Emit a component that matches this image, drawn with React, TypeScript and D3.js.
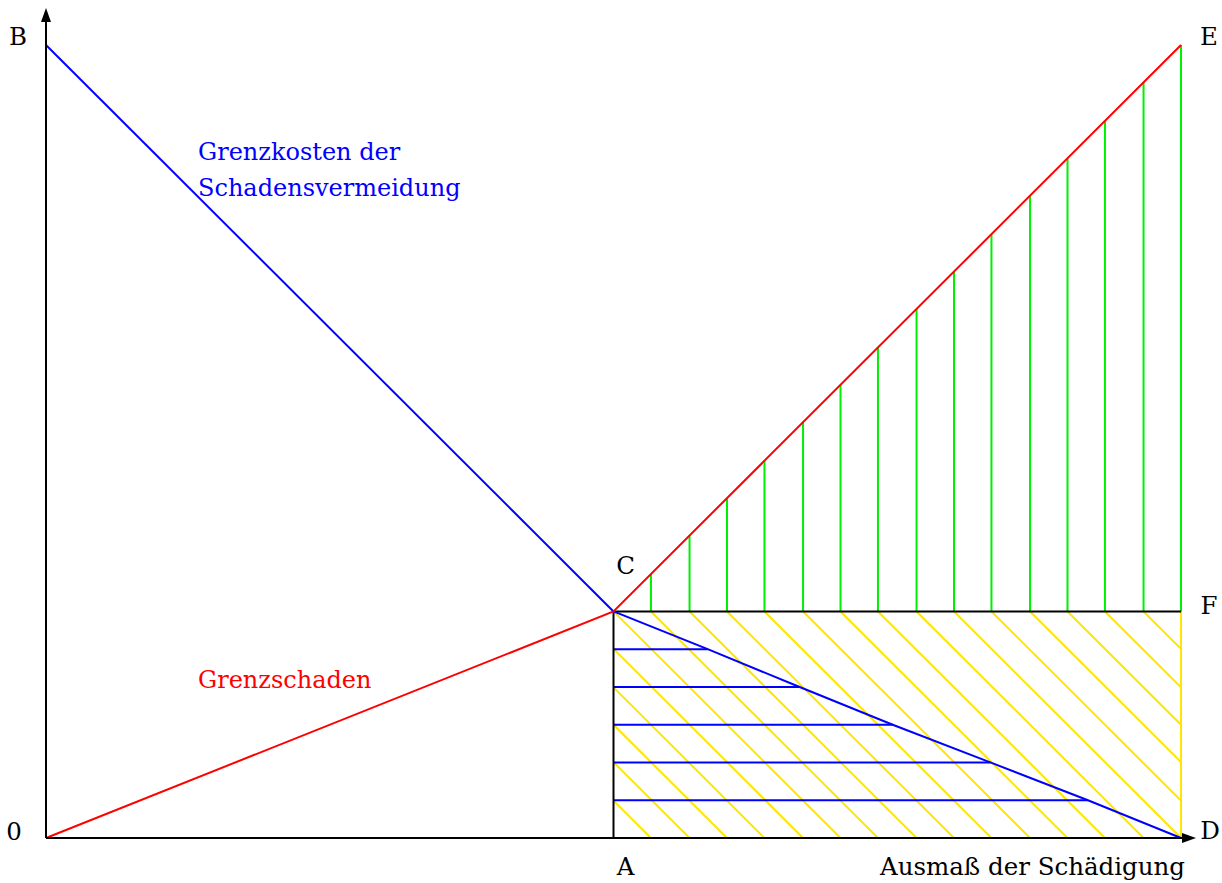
import * as d3 from "d3";

// Grenzkosten der Schadensvermeidung (B -> C)
const costX = [0, 5];
const costY = [7, 2];
// Grenzschaden (0 -> C -> E)
const damageX = [0, 5, 10];
const damageY = [0, 2, 7];
// Kostenkurve unter der Linie C-F (C -> D)
const lowerX = [5, 5.83, 6.64, 7.46, 8.32, 9.18, 10];
const lowerY = [2, 1.667, 1.333, 1, 0.667, 0.333, 0];
// horizontale blaue Schraffur
const hatchY = [1.667, 1.333, 1, 0.667, 0.333];
const hatchEndX = [5.83, 6.64, 7.46, 8.32, 9.18];
// grüne Schraffur zwischen F-Linie und Grenzschaden
const greenX = [5.33, 5.67, 6, 6.33, 6.67, 7, 7.33, 7.67, 8, 8.33, 8.67, 9, 9.33, 9.67, 10];
// gelbe Diagonalen (x + y = c)
const diagC = [5.33, 5.67, 6, 6.33, 6.67, 7, 7.33, 7.67, 8, 8.33, 8.67, 9, 9.33, 9.67, 10, 10.33, 10.67, 11, 11.33, 11.67];

const pointLabels = ["0", "A", "B", "C", "D", "E", "F"];

const W = 1222;
const H = 883;

const x = d3.scaleLinear().domain([0, 10]).range([46, 1181]);
const y = d3.scaleLinear().domain([0, 7]).range([838, 45]);

const line = d3
  .line<[number, number]>()
  .x((d) => x(d[0]))
  .y((d) => y(d[1]));

const font = "'DejaVu Serif', 'Liberation Serif', serif";

export default function App() {
  const cost = costX.map((v, i) => [v, costY[i]] as [number, number]);
  const damage = damageX.map((v, i) => [v, damageY[i]] as [number, number]);
  const lower = lowerX.map((v, i) => [v, lowerY[i]] as [number, number]);

  // label positions (pixel offsets from anchor points)
  const labelPos: Record<string, [number, number, string]> = {
    "0": [x(0) - 32, y(0) + 2, "middle"],
    A: [x(5) + 12, y(0) + 37, "middle"],
    B: [x(0) - 28, y(7), "middle"],
    C: [x(5) + 12, y(2) - 37, "middle"],
    D: [x(10) + 29, y(0) + 1, "middle"],
    E: [x(10) + 28, y(7), "middle"],
    F: [x(10) + 28, y(2) + 3, "middle"],
  };

  return (
    <svg
      width={W}
      height={H}
      style={{ position: "absolute", left: 0, top: 0, background: "#fff" }}
    >
      <defs>
        <clipPath id="rect-clip">
          <rect x={x(5)} y={y(2)} width={x(10) - x(5)} height={y(0) - y(2)} />
        </clipPath>
      </defs>

      {/* yellow diagonal hatching */}
      <g clipPath="url(#rect-clip)" stroke="#ffe600" strokeWidth={2}>
        {diagC.map((c) => (
          <line key={c} x1={x(c - 2)} y1={y(2)} x2={x(c)} y2={y(0)} />
        ))}
      </g>
      <line x1={x(10)} y1={y(0)} x2={x(10)} y2={y(2)} stroke="#ffe600" strokeWidth={2} />

      {/* blue horizontal hatching */}
      <g stroke="#0000ff" strokeWidth={2}>
        {hatchY.map((v, i) => (
          <line key={v} x1={x(5)} y1={y(v)} x2={x(hatchEndX[i])} y2={y(v)} />
        ))}
      </g>

      {/* green vertical hatching */}
      <g stroke="#00f000" strokeWidth={2}>
        {greenX.map((v) => (
          <line key={v} x1={x(v)} y1={y(2)} x2={x(v)} y2={y(v - 3)} />
        ))}
      </g>

      {/* black frame lines */}
      <g stroke="#000" strokeWidth={2}>
        <line x1={x(5)} y1={y(0)} x2={x(5)} y2={y(2)} />
        <line x1={x(5)} y1={y(2)} x2={x(10)} y2={y(2)} />
      </g>

      {/* curves */}
      <path d={line(lower) ?? ""} fill="none" stroke="#0000ff" strokeWidth={2} />
      <path d={line(cost) ?? ""} fill="none" stroke="#0000ff" strokeWidth={2} />
      <path d={line(damage) ?? ""} fill="none" stroke="#ff0000" strokeWidth={2} />

      {/* axes */}
      <g stroke="#000" strokeWidth={2}>
        <line x1={x(0)} y1={y(0)} x2={x(0)} y2={20} />
        <line x1={x(0)} y1={y(0)} x2={1184} y2={y(0)} />
      </g>
      <path d={`M${x(0)},8 L${x(0) - 5},22 L${x(0) + 5},22 Z`} fill="#000" />
      <path d={`M1196,${y(0)} L1182,${y(0) - 5} L1182,${y(0) + 5} Z`} fill="#000" />

      {/* point labels */}
      <g fontFamily={font} fontSize={24.5} fill="#000">
        {pointLabels.map((p) => (
          <text key={p} x={labelPos[p][0]} y={labelPos[p][1]} textAnchor={labelPos[p][2]}>
            {p}
          </text>
        ))}
        <text x={1185} y={875} textAnchor="end">
          Ausmaß der Schädigung
        </text>
      </g>

      <g fontFamily={font} fontSize={24}>
        <text x={198} y={160} fill="#0000ff">
          Grenzkosten der
        </text>
        <text x={198} y={196} fill="#0000ff">
          Schadensvermeidung
        </text>
        <text x={198} y={688} fill="#ff0000">
          Grenzschaden
        </text>
      </g>
    </svg>
  );
}
